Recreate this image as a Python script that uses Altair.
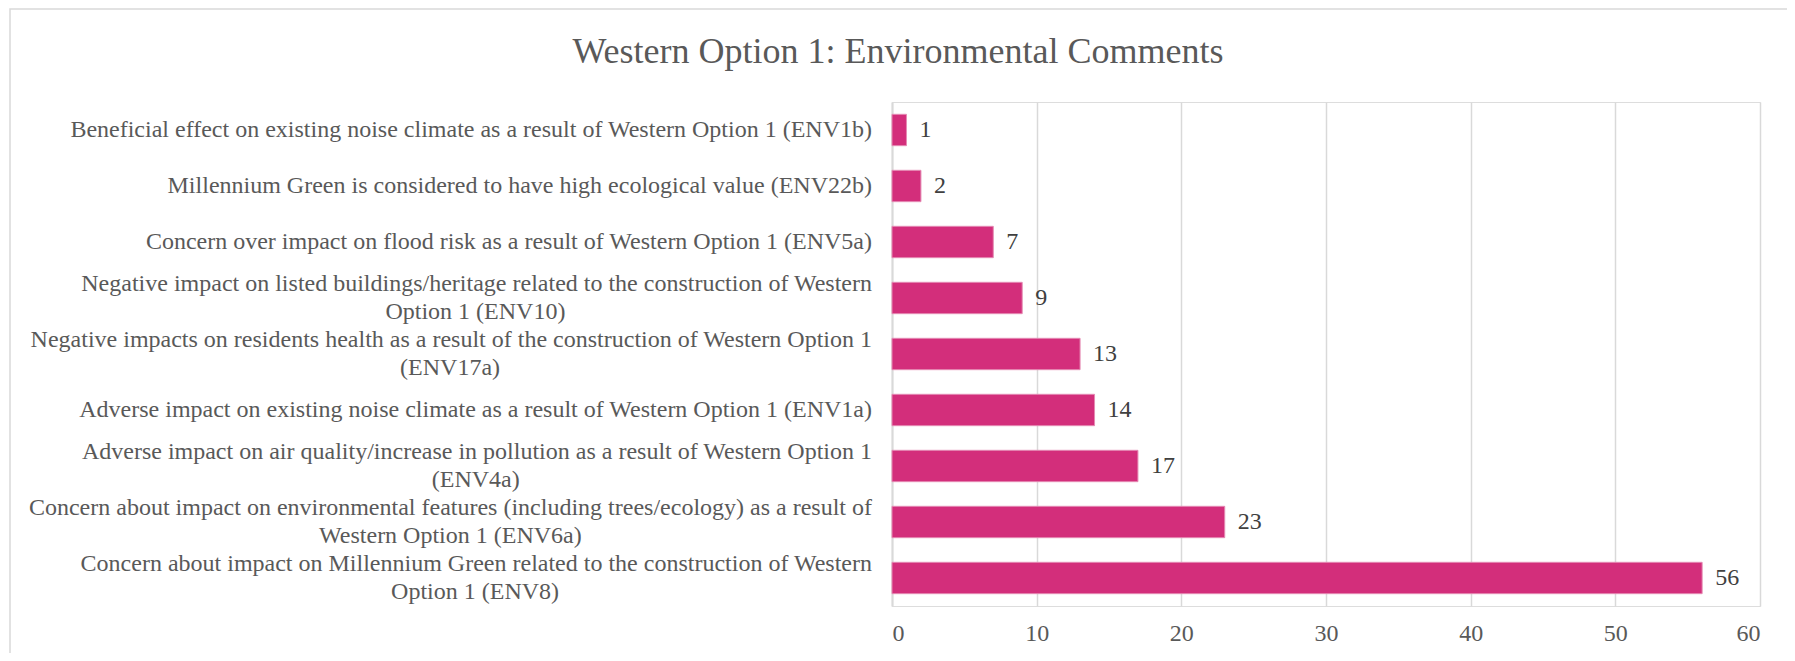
import altair as alt
import pandas as pd

title_text = "Western Option 1: Environmental Comments"

label_line1 = [
    "Beneficial effect on existing noise climate as a result of Western Option 1 (ENV1b)",
    "Millennium Green is considered to have high ecological value (ENV22b)",
    "Concern over impact on flood risk as a result of Western Option 1 (ENV5a)",
    "Negative impact on listed buildings/heritage related to the construction of Western",
    "Negative impacts on residents health as a result of the construction of Western Option 1",
    "Adverse impact on existing noise climate as a result of Western Option 1 (ENV1a)",
    "Adverse impact on air quality/increase in pollution as a result of Western Option 1",
    "Concern about impact on environmental features (including trees/ecology) as a result of",
    "Concern about impact on Millennium Green related to the construction of Western",
]
label_line2 = [
    "",
    "",
    "",
    "Option 1 (ENV10)",
    "(ENV17a)",
    "",
    "(ENV4a)",
    "Western Option 1 (ENV6a)",
    "Option 1 (ENV8)",
]
values = [1, 2, 7, 9, 13, 14, 17, 23, 56]
x_ticks = [0, 10, 20, 30, 40, 50, 60]

FONT = "Liberation Serif"
LABEL_SIZE = 24
LABEL_GAP = 20  # gap between axis line and right edge of category labels

# Times / Liberation Serif advance widths (per 1000 em) to centre wrapped second lines
_w = {" ": 250, "(": 333, ")": 333, "/": 278, ":": 278, "-": 333, ".": 250, ",": 250}
_w.update({d: 500 for d in "0123456789"})
_w.update(dict(zip("ABCDEFGHIJKLMNOPQRSTUVWXYZ",
                   [722, 667, 667, 722, 611, 556, 722, 722, 333, 389, 722, 611, 889,
                    722, 722, 556, 722, 667, 556, 611, 722, 722, 944, 722, 722, 611])))
_w.update(dict(zip("abcdefghijklmnopqrstuvwxyz",
                   [444, 500, 444, 500, 444, 333, 500, 500, 278, 278, 500, 278, 778,
                    500, 500, 500, 500, 333, 389, 278, 500, 500, 722, 500, 500, 444])))


def text_width(s):
    return sum(_w.get(c, 500) for c in s) * LABEL_SIZE / 1000.0


df = pd.DataFrame({"line1": label_line1, "line2": label_line2, "value": values})
df["two"] = df["line2"] != ""
df["cx"] = [-LABEL_GAP - text_width(s) / 2.0 for s in label_line1]

PINK = "#D32E7B"
GRID = "#D9D9D9"

y_enc = alt.Y(
    "line1:N",
    sort=label_line1,
    scale=alt.Scale(paddingInner=0.44, paddingOuter=0.22),
    axis=alt.Axis(labels=False, ticks=False, title=None, grid=False,
                  domain=True, domainColor=GRID, domainWidth=2),
)
x_enc = alt.X(
    "value:Q",
    scale=alt.Scale(domain=[0, 60], nice=False),
    axis=alt.Axis(values=x_ticks, title=None, ticks=False, domain=False,
                  grid=True, gridColor=GRID, gridWidth=1.5,
                  labelFont=FONT, labelFontSize=24, labelColor="#595959",
                  labelPadding=15),
)

base = alt.Chart(df)

bars = base.mark_bar(color=PINK, stroke="#E58AB3", strokeWidth=1).encode(x=x_enc, y=y_enc)

value_labels = base.mark_text(
    align="left", baseline="middle", dx=13, font=FONT, fontSize=24, color="#404040"
).encode(x="value:Q", y=alt.Y("line1:N", sort=label_line1), text="value:Q")

single = base.transform_filter("!datum.two").mark_text(
    align="right", baseline="middle", font=FONT, fontSize=LABEL_SIZE, color="#595959"
).encode(x=alt.value(-LABEL_GAP), y=alt.Y("line1:N", sort=label_line1), text="line1:N")

first = base.transform_filter("datum.two").mark_text(
    align="right", baseline="middle", dy=-14, font=FONT, fontSize=LABEL_SIZE, color="#595959"
).encode(x=alt.value(-LABEL_GAP), y=alt.Y("line1:N", sort=label_line1), text="line1:N")

second = base.transform_filter("datum.two").mark_text(
    align="center", baseline="middle", dy=14, font=FONT, fontSize=LABEL_SIZE, color="#595959"
).encode(x=alt.X("cx:Q", scale=None), y=alt.Y("line1:N", sort=label_line1), text="line2:N")

title_df = pd.DataFrame({"t": [title_text]})
title = alt.Chart(title_df).mark_text(
    align="center", baseline="alphabetic", font=FONT, fontSize=36, color="#595959"
).encode(x=alt.value(6), y=alt.value(-39), text="t:N")

frame = alt.Chart(title_df).mark_rect(
    fill=None, stroke=GRID, strokeWidth=1.5
).encode(x=alt.value(-882), x2=alt.value(897), y=alt.value(-93), y2=alt.value(600))

chart = alt.layer(frame, bars, value_labels, single, first, second, title).properties(
    width=868,
    height=504,
    padding={"left": 884, "top": 94, "right": 27, "bottom": 47},
    autosize=alt.AutoSizeParams(type="none"),
).configure_view(stroke=None).configure(background="white")

chart.save("out.html", embed_options={"renderer": "svg", "actions": False})
